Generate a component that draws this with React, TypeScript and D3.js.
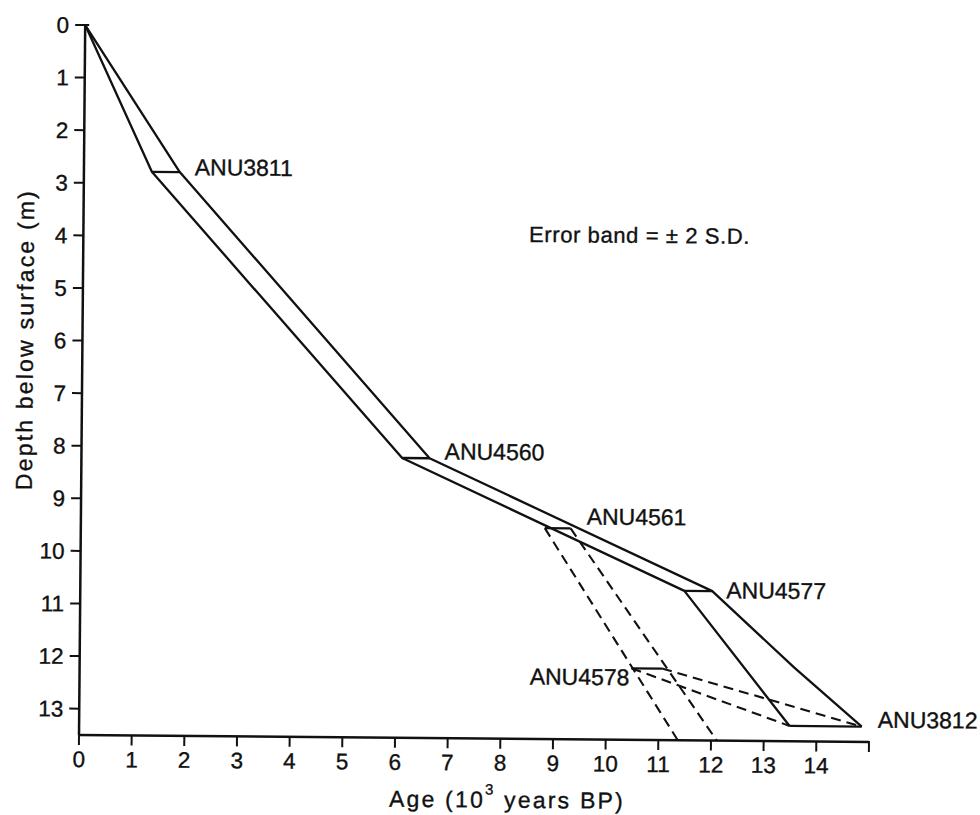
import React from "react";
import * as d3 from "d3";

// ---- data ----
const ageTicks = [0, 1, 2, 3, 4, 5, 6, 7, 8, 9, 10, 11, 12, 13, 14];
const depthTicks = [0, 1, 2, 3, 4, 5, 6, 7, 8, 9, 10, 11, 12, 13];

const sampleNames = ["ANU3811", "ANU4560", "ANU4561", "ANU4577", "ANU4578", "ANU3812"];
const sampleDepth = [2.78, 8.18, 9.49, 10.66, 12.14, 13.21];
const sampleAgeMin = [1.29, 6.09, 8.81, 11.47, 10.48, 13.49];
const sampleAgeMax = [1.82, 6.61, 9.3, 12.0, 11.06, 14.86];

// solid error band boundaries
const youngBoundAge = [0, 1.29, 6.09, 11.47, 13.49];
const youngBoundDepth = [0, 2.78, 8.18, 10.66, 13.21];
const oldBoundAge = [0, 1.82, 6.61, 12.0, 13.57, 14.86];
const oldBoundDepth = [0, 2.78, 8.18, 10.66, 12.1, 13.21];

// dashed alternative lines
const dashedFromAge = [8.81, 9.3, 10.48, 11.06];
const dashedFromDepth = [9.49, 9.49, 12.14, 12.14];
const dashedToAge = [11.37, 12.11, 13.49, 14.86];
const dashedToDepth = [13.5, 13.5, 13.21, 13.21];

// ---- layout ----
const W = 980;
const H = 815;
const FONT = "'Liberation Sans', Arial, Helvetica, sans-serif";
const INK = "#111";
const TS = 0.35; // text stroke to mimic printed ink weight

const x = d3.scaleLinear().domain([0, 15]).range([79, 869]);
const y = d3.scaleLinear().domain([0, 13.5]).range([25, 735]);

const lineGen = d3
  .line<[number, number]>()
  .x((d) => x(d[0]))
  .y((d) => y(d[1]));

const labelOffsets: { [k: string]: { dx: number; dy: number; anchor: "start" | "end"; side: "min" | "max" } } = {
  ANU3811: { dx: 15, dy: 3, anchor: "start", side: "max" },
  ANU4560: { dx: 15, dy: 1, anchor: "start", side: "max" },
  ANU4561: { dx: 16, dy: -4, anchor: "start", side: "max" },
  ANU4577: { dx: 14, dy: 7, anchor: "start", side: "max" },
  ANU4578: { dx: -2, dy: 17, anchor: "end", side: "min" },
  ANU3812: { dx: 16, dy: 1, anchor: "start", side: "max" },
};

export default function App() {
  const young = youngBoundAge.map((a, i) => [a, youngBoundDepth[i]] as [number, number]);
  const old = oldBoundAge.map((a, i) => [a, oldBoundDepth[i]] as [number, number]);
  const depthMax = y.domain()[1];
  const ageMax = x.domain()[1];

  return (
    <svg
      width={W}
      height={H}
      style={{ position: "absolute", left: 0, top: 0, background: "#fff" }}
      fontFamily={FONT}
    >
      <rect x={0} y={0} width={W} height={H} fill="#fff" />
      <g transform="rotate(0.5, 79, 735)">
        {/* axes */}
        <line x1={x(0)} y1={y(0)} x2={x(0)} y2={y(depthMax)} stroke={INK} strokeWidth={2.5} />
        <line x1={x(0) - 1} y1={y(depthMax)} x2={x(ageMax)} y2={y(depthMax)} stroke={INK} strokeWidth={2.5} />
        {depthTicks.map((t) => (
          <g key={"yt" + t}>
            <line x1={x(0) - 10} x2={x(0) + (t === 0 ? 4 : 0)} y1={y(t)} y2={y(t)} stroke={INK} strokeWidth={2} />
            <text
              x={x(0) - 16}
              y={y(t) + 8}
              textAnchor="end"
              fontSize={22.5}
              fill={INK}
              stroke={INK}
              strokeWidth={TS}
            >
              {t}
            </text>
          </g>
        ))}
        {ageTicks.map((t) => (
          <g key={"xt" + t}>
            <line x1={x(t)} x2={x(t)} y1={y(depthMax)} y2={y(depthMax) + 10} stroke={INK} strokeWidth={2} />
            <text
              x={x(t)}
              y={y(depthMax) + 32}
              textAnchor="middle"
              fontSize={22.5}
              fill={INK}
              stroke={INK}
              strokeWidth={TS}
            >
              {t}
            </text>
          </g>
        ))}
        <line x1={x(ageMax)} x2={x(ageMax)} y1={y(depthMax) - 1} y2={y(depthMax) + 10} stroke={INK} strokeWidth={2} />

        {/* axis titles */}
        <text
          x={29.6}
          y={340}
          transform="rotate(-90, 29.6, 340)"
          textAnchor="middle"
          fontSize={23}
          letterSpacing={2.2}
          fill={INK}
          stroke={INK}
          strokeWidth={TS}
        >
          Depth below surface (m)
        </text>
        <text x={389.6} y={804} fontSize={23} letterSpacing={2.2} fill={INK} stroke={INK} strokeWidth={TS}>
          <tspan>Age (10</tspan>
          <tspan fontSize={15} dy={-13}>
            3
          </tspan>
          <tspan dy={13}> years BP)</tspan>
        </text>

        {/* solid band */}
        <path d={lineGen(young) || ""} fill="none" stroke={INK} strokeWidth={2.3} strokeLinejoin="round" />
        <path d={lineGen(old) || ""} fill="none" stroke={INK} strokeWidth={2.3} strokeLinejoin="round" />

        {/* dashed */}
        {dashedFromAge.map((a, i) => (
          <path
            key={"d" + i}
            d={
              lineGen([
                [a, dashedFromDepth[i]],
                [dashedToAge[i], dashedToDepth[i]],
              ]) || ""
            }
            fill="none"
            stroke={INK}
            strokeWidth={2.1}
            strokeDasharray="10,6"
          />
        ))}

        {/* sample bars & labels */}
        {sampleNames.map((n, i) => {
          const o = labelOffsets[n];
          const ax = o.side === "max" ? sampleAgeMax[i] : sampleAgeMin[i];
          return (
            <g key={n}>
              <line
                x1={x(sampleAgeMin[i])}
                x2={x(sampleAgeMax[i])}
                y1={y(sampleDepth[i])}
                y2={y(sampleDepth[i])}
                stroke={INK}
                strokeWidth={2.3}
              />
              <text
                x={x(ax) + o.dx}
                y={y(sampleDepth[i]) + o.dy}
                textAnchor={o.anchor}
                fontSize={23}
                fill={INK}
                stroke={INK}
                strokeWidth={TS}
              >
                {n}
              </text>
            </g>
          );
        })}

        <text x={524.7} y={238} fontSize={22} letterSpacing={0.6} fill={INK} stroke={INK} strokeWidth={TS}>
          Error band = ± 2 S.D.
        </text>
      </g>
    </svg>
  );
}
